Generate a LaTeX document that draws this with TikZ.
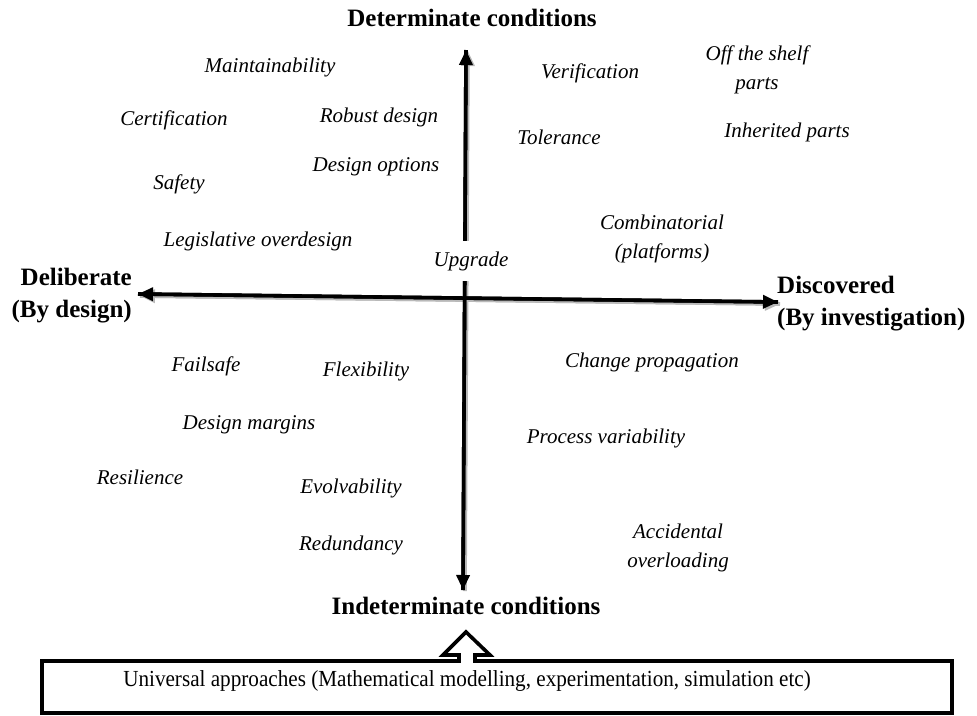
\documentclass[tikz,border=0pt]{standalone}
\usepackage{fontspec}
\setmainfont{Liberation Serif}[ItalicFont={Liberation Serif Italic},BoldFont={Liberation Serif Bold}]
\usetikzlibrary{arrows.meta}
\begin{document}
\begin{tikzpicture}[x=1pt,y=-1pt,
  lbl/.style={font=\fontsize{21}{29}\selectfont\itshape, align=center, inner sep=1pt},
  head/.style={font=\fontsize{25}{32}\selectfont\bfseries, inner sep=1pt},
  axis/.style={line width=3.6pt, -{Triangle[length=15pt,width=13pt]}},
  shadow/.style={line width=3.6pt, draw=gray!55, -{Triangle[length=15pt,width=13pt]}}]
\useasboundingbox (0,0) rectangle (977,715);
% axis end points
\coordinate (top) at (466,50);
\coordinate (bot) at (463,590);
\coordinate (lft) at (138,294);
\coordinate (rgt) at (778,302);
% shadows
\draw[shadow] ([shift={(2,2)}]rgt) -- ([shift={(2,2)}]lft);
\draw[shadow] ([shift={(2,2)}]lft) -- ([shift={(2,2)}]rgt);
\draw[shadow] ([shift={(2,1)}]bot) -- ([shift={(2,1)}]top);
% axes
\draw[axis] (rgt) -- (lft);
\draw[axis] (lft) -- (rgt);
\draw[axis] (bot) -- (top);
\draw[axis] (top) -- (bot);
% headings
\node[head] (det) at (472,18) {Determinate conditions};
\node[head] (ind) at (466,606) {Indeterminate conditions};
\node[head, align=right, anchor=east] (del) at (133,296) {Deliberate\\(By design)};
\node[head, align=left, anchor=west] (dis) at (776,304) {Discovered\\(By investigation)};
% labels
\node[lbl] (maint) at (270,67) {Maintainability};
\node[lbl] (verif) at (590,73) {Verification};
\node[lbl] (shelf) at (757,70) {Off the shelf\\parts};
\node[lbl] (cert) at (174,120) {Certification};
\node[lbl] (robust) at (379,117) {Robust design};
\node[lbl] (tol) at (559,137) {Tolerance};
\node[lbl] (inher) at (787,132) {Inherited parts};
\node[lbl] (dopt) at (376,167) {Design options};
\node[lbl] (safety) at (179,184) {Safety};
\node[lbl] (comb) at (662,239) {Combinatorial\\(platforms)};
\node[lbl] (legis) at (258,241) {Legislative overdesign};
\node[lbl, fill=white, inner xsep=4pt, inner ysep=10pt] (upg) at (471,261) {Upgrade};
\node[lbl] (fail) at (206,366) {Failsafe};
\node[lbl] (flex) at (366,371) {Flexibility};
\node[lbl] (chg) at (652,362) {Change propagation};
\node[lbl] (dmarg) at (249,425) {Design margins};
\node[lbl] (proc) at (606,438) {Process variability};
\node[lbl] (resil) at (140,477) {Resilience};
\node[lbl] (evol) at (351,488) {Evolvability};
\node[lbl] (acc) at (678,548) {Accidental\\overloading};
\node[lbl] (redun) at (351,545) {Redundancy};
% bottom box with hollow arrow
\draw[line width=3.6pt, line join=miter] (42,661) -- (459,661) -- (459,655) -- (443,655) -- (466,632) -- (490,655) -- (475,655) -- (475,661) -- (952,661) -- (952,713) -- (42,713) -- cycle;
\node[font=\fontsize{23}{26}\selectfont, inner sep=0pt] (univ) at (467,681) {\scalebox{0.92}[1]{Universal approaches (Mathematical modelling, experimentation, simulation etc)}};
\end{tikzpicture}
\end{document}
